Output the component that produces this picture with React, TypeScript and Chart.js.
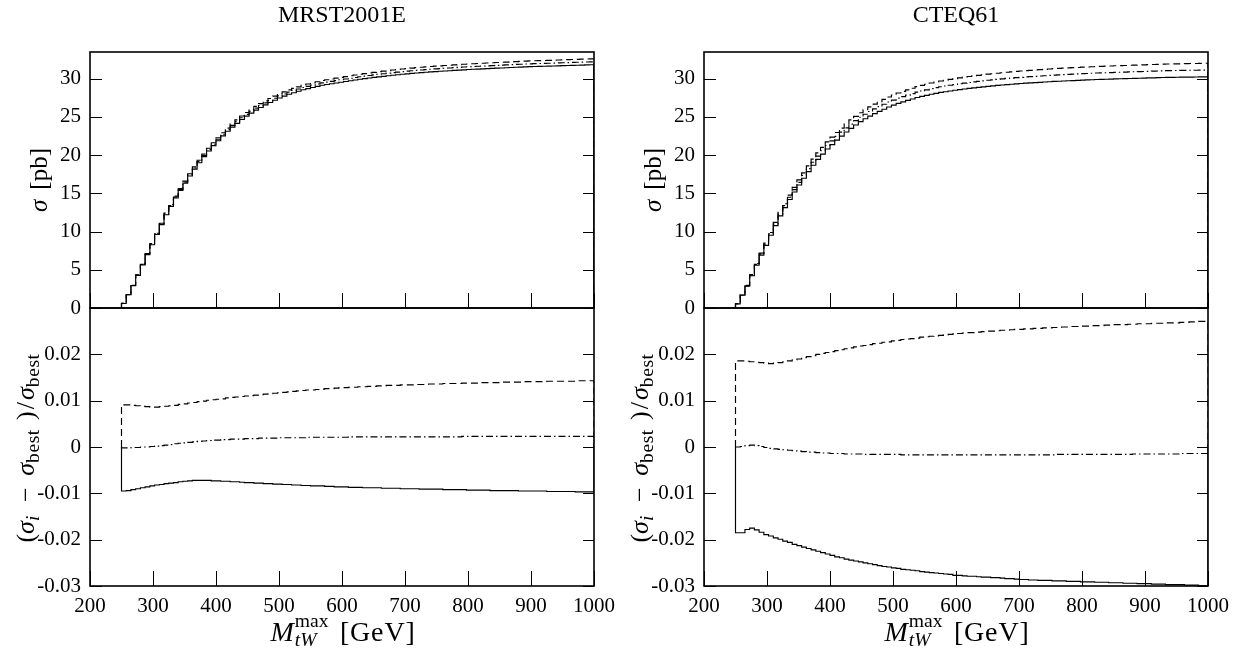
import React, { useEffect, useRef } from 'react';
import { Chart, registerables } from 'chart.js';
Chart.register(...registerables);

const FONT = "'Liberation Serif', 'Times New Roman', serif";

// histogram binning (GeV)
const BIN_LO = 250;
const BIN_W = 7.5;
const X_MIN = 200;
const X_MAX = 1000;
const X_TICKS = [200, 300, 400, 500, 600, 700, 800, 900, 1000];
const SIGMA_TICKS = [0, 5, 10, 15, 20, 25, 30];
const SIGMA_MAX = 33.5;
const RATIO_TICKS = [-0.03, -0.02, -0.01, 0, 0.01, 0.02, 0.03];
const RATIO_MIN = -0.03;
const RATIO_MAX = 0.03;

// sigma_best per 7.5 GeV bin [pb]
const MRST_BEST = [
  0.6, 1.75, 2.95, 4.3, 5.7, 7.05, 8.35, 9.7, 11.0, 12.3,
  13.4, 14.5, 15.5, 16.45, 17.4, 18.3, 19.15, 19.95, 20.7, 21.4,
  22.05, 22.7, 23.3, 23.85, 24.35, 24.85, 25.3, 25.7, 26.1, 26.45,
  26.8, 27.1, 27.4, 27.7, 27.95, 28.2, 28.4, 28.6, 28.8, 28.95,
  29.1, 29.25, 29.4, 29.5, 29.6, 29.7, 29.8, 29.9, 30.0, 30.1,
  30.2, 30.28, 30.36, 30.44, 30.52, 30.59, 30.66, 30.73, 30.8, 30.86,
  30.92, 30.98, 31.03, 31.08, 31.13, 31.18, 31.22, 31.26, 31.3, 31.34,
  31.38, 31.42, 31.46, 31.5, 31.53, 31.56, 31.59, 31.62, 31.65, 31.68,
  31.71, 31.74, 31.77, 31.8, 31.83, 31.86, 31.88, 31.9, 31.92, 31.94,
  31.96, 31.98, 32.0, 32.02, 32.04, 32.06, 32.08, 32.1, 32.12, 32.14,
];
const CTEQ_BEST = [
  0.55, 1.7, 2.9, 4.3, 5.7, 7.05, 8.35, 9.7, 11.0, 12.3,
  13.4, 14.5, 15.5, 16.45, 17.35, 18.25, 19.1, 19.9, 20.6, 21.3,
  21.9, 22.5, 23.05, 23.6, 24.1, 24.55, 25.0, 25.4, 25.75, 26.1,
  26.4, 26.7, 27.0, 27.25, 27.5, 27.7, 27.9, 28.1, 28.3, 28.45,
  28.6, 28.75, 28.88, 29.0, 29.1, 29.2, 29.3, 29.4, 29.48, 29.56,
  29.64, 29.71, 29.78, 29.85, 29.91, 29.97, 30.03, 30.09, 30.14, 30.19,
  30.24, 30.29, 30.33, 30.37, 30.41, 30.45, 30.49, 30.53, 30.56, 30.59,
  30.62, 30.65, 30.68, 30.71, 30.74, 30.77, 30.8, 30.82, 30.84, 30.86,
  30.88, 30.9, 30.92, 30.94, 30.96, 30.98, 31.0, 31.02, 31.04, 31.06,
  31.08, 31.1, 31.11, 31.12, 31.13, 31.14, 31.15, 31.16, 31.17, 31.18,
];

// (sigma_i - sigma_best)/sigma_best per bin, in units of 1e-4
const MRST_DASHED = [
  91, 91, 90, 89, 88, 87, 86, 86, 87, 88,
  89, 90, 92, 93, 95, 96, 98, 99, 101, 102,
  103, 104, 106, 107, 108, 109, 110, 111, 112, 113,
  114, 115, 116, 117, 118, 119, 120, 121, 122, 123,
  123, 124, 125, 126, 126, 127, 128, 128, 129, 129,
  130, 130, 131, 131, 132, 132, 133, 133, 133, 134,
  134, 134, 135, 135, 135, 136, 136, 136, 137, 137,
  137, 137, 138, 138, 138, 138, 139, 139, 139, 139,
  140, 140, 140, 140, 140, 141, 141, 141, 141, 141,
  142, 142, 142, 142, 142, 142, 143, 143, 143, 143,
];
const MRST_DASHDOT = [
  -2, -2, -1, -1, 0, 0, 1, 2, 3, 4,
  5, 7, 8, 9, 10, 11, 12, 13, 14, 15,
  15, 16, 16, 17, 17, 17, 18, 18, 18, 19,
  19, 19, 19, 20, 20, 20, 20, 20, 20, 21,
  21, 21, 21, 21, 21, 21, 21, 21, 22, 22,
  22, 22, 22, 22, 22, 22, 22, 22, 22, 22,
  22, 22, 22, 22, 22, 22, 22, 22, 22, 22,
  22, 22, 23, 23, 23, 23, 23, 23, 23, 23,
  23, 23, 23, 23, 23, 23, 23, 23, 23, 23,
  23, 23, 23, 23, 23, 23, 23, 23, 23, 23,
];
const MRST_SOLID = [
  -95, -94, -92, -90, -88, -86, -84, -82, -81, -79,
  -78, -77, -75, -74, -73, -72, -72, -72, -72, -73,
  -73, -74, -74, -75, -75, -76, -77, -77, -78, -78,
  -79, -79, -80, -80, -81, -81, -82, -82, -83, -83,
  -84, -84, -84, -85, -85, -86, -86, -86, -87, -87,
  -87, -88, -88, -88, -88, -89, -89, -89, -89, -90,
  -90, -90, -90, -91, -91, -91, -91, -91, -92, -92,
  -92, -92, -92, -93, -93, -93, -93, -93, -94, -94,
  -94, -94, -94, -94, -95, -95, -95, -95, -95, -95,
  -96, -96, -96, -96, -96, -96, -97, -97, -97, -97,
];
const CTEQ_DASHED = [
  186, 186, 185, 184, 183, 182, 181, 180, 181, 182,
  184, 186, 188, 190, 193, 195, 197, 200, 202, 204,
  206, 208, 210, 212, 214, 216, 218, 219, 221, 223,
  224, 226, 227, 229, 230, 232, 233, 234, 235, 237,
  238, 239, 240, 241, 242, 243, 244, 245, 246, 247,
  247, 248, 249, 250, 250, 251, 252, 252, 253, 254,
  254, 255, 255, 256, 256, 257, 257, 258, 258, 259,
  259, 260, 260, 261, 261, 262, 262, 262, 263, 263,
  264, 264, 264, 265, 265, 266, 266, 266, 267, 267,
  267, 268, 268, 268, 269, 269, 270, 270, 271, 271,
];
const CTEQ_DASHDOT = [
  0, 1, 3, 4, 3, 1, -1, -3, -4, -5,
  -6, -7, -8, -9, -10, -11, -11, -12, -13, -13,
  -14, -14, -14, -15, -15, -15, -15, -16, -16, -16,
  -16, -16, -16, -16, -16, -17, -17, -17, -17, -17,
  -17, -17, -17, -17, -17, -17, -17, -17, -17, -17,
  -17, -17, -17, -17, -17, -17, -17, -17, -17, -17,
  -17, -17, -17, -17, -17, -17, -17, -17, -16, -16,
  -16, -16, -16, -16, -16, -16, -16, -16, -16, -16,
  -16, -16, -16, -16, -15, -15, -15, -15, -15, -15,
  -15, -15, -15, -15, -14, -14, -14, -14, -14, -14,
];
const CTEQ_SOLID = [
  -185, -185, -178, -175, -179, -184, -189, -192, -196, -199,
  -203, -206, -210, -213, -216, -219, -222, -225, -228, -231,
  -234, -237, -239, -242, -244, -246, -248, -250, -252, -254,
  -256, -258, -259, -261, -262, -264, -265, -266, -267, -269,
  -270, -271, -272, -273, -274, -275, -277, -277, -278, -279,
  -279, -280, -281, -281, -282, -282, -283, -284, -284, -285,
  -286, -286, -287, -287, -288, -288, -288, -289, -289, -289,
  -290, -290, -290, -291, -291, -291, -292, -292, -292, -293,
  -293, -293, -294, -294, -294, -295, -295, -295, -296, -296,
  -296, -297, -297, -297, -297, -298, -298, -298, -299, -299,
];

const RATIO_UNIT = 1e-4;
const DASH = [7, 4];
const DASHDOT = [7, 3, 1.5, 3];

type Series = { values: number[]; dash: number[] };

function histPoints(values: number[]) {
  const pts: { x: number; y: number }[] = [{ x: BIN_LO, y: 0 }];
  values.forEach((v, k) => pts.push({ x: BIN_LO + BIN_W * k, y: v }));
  pts.push({ x: BIN_LO + BIN_W * values.length, y: 0 });
  return pts;
}

function topSeries(best: number[], solid: number[], dashed: number[], dashdot: number[]): Series[] {
  const mk = (r: number[]) => best.map((b, k) => b * (1 + r[k] * RATIO_UNIT));
  return [
    { values: mk(solid), dash: [] },
    { values: mk(dashed), dash: DASH },
    { values: mk(dashdot), dash: DASHDOT },
  ];
}
function ratioSeries(solid: number[], dashed: number[], dashdot: number[]): Series[] {
  const mk = (r: number[]) => r.map((v) => v * RATIO_UNIT);
  return [
    { values: mk(solid), dash: [] },
    { values: mk(dashed), dash: DASH },
    { values: mk(dashdot), dash: DASHDOT },
  ];
}

const frameTicksPlugin = {
  id: 'frameTicks',
  afterDatasetsDraw(chart: any, _args: any, opts: any) {
    const { ctx, chartArea: a, scales } = chart;
    const xs = scales.x;
    const ys = scales.y;
    ctx.save();
    ctx.strokeStyle = '#000';
    ctx.lineWidth = 1;
    ctx.beginPath();
    for (const v of X_TICKS) {
      const px = Math.round(xs.getPixelForValue(v)) + 0.5;
      ctx.moveTo(px, a.bottom);
      ctx.lineTo(px, a.bottom - 15);
    }
    for (const v of opts.yTicks as number[]) {
      const py = Math.round(ys.getPixelForValue(v)) + 0.5;
      ctx.moveTo(a.left, py);
      ctx.lineTo(a.left + 12, py);
      ctx.moveTo(a.right, py);
      ctx.lineTo(a.right - 11, py);
    }
    ctx.stroke();
    ctx.lineWidth = 1.6;
    ctx.strokeRect(a.left, a.top, a.right - a.left, a.bottom - a.top);
    ctx.restore();
  },
};

type PanelProps = {
  left: number; top: number; width: number; height: number;
  padTop: number; xHeight: number;
  yMin: number; yMax: number; yTicks: number[]; showX: boolean;
  fmt: (v: number) => string; series: Series[];
};

function Panel(p: PanelProps) {
  const ref = useRef<HTMLCanvasElement>(null);
  useEffect(() => {
    if (!ref.current) return;
    const chart = new Chart(ref.current, {
      type: 'line',
      data: {
        datasets: p.series.map((s) => ({
          data: histPoints(s.values),
          borderColor: '#000',
          borderWidth: 1.15,
          borderDash: s.dash,
          stepped: true,
          pointRadius: 0,
          fill: false,
        })),
      } as any,
      options: {
        animation: false,
        responsive: false,
        maintainAspectRatio: false,
        layout: { padding: { left: 0, right: 26, top: p.padTop, bottom: 0 } },
        plugins: {
          legend: { display: false },
          tooltip: { enabled: false },
          title: { display: false },
          frameTicks: { yTicks: p.yTicks },
        } as any,
        scales: {
          x: {
            type: 'linear',
            min: X_MIN,
            max: X_MAX,
            grid: { display: false, drawTicks: false },
            border: { display: false },
            ticks: {
              display: p.showX,
              autoSkip: false,
              maxRotation: 0,
              padding: 8,
              color: '#000',
              font: { family: FONT, size: 21 },
              callback: (v: any) => String(v),
            },
            afterBuildTicks: (s: any) => { s.ticks = X_TICKS.map((v) => ({ value: v })); },
            afterFit: (s: any) => {
              s.height = p.xHeight;
              s.paddingLeft = 0; s.paddingRight = 0; s.paddingTop = 0; s.paddingBottom = 0;
            },
          },
          y: {
            type: 'linear',
            min: p.yMin,
            max: p.yMax,
            grid: { display: false, drawTicks: false },
            border: { display: false },
            ticks: {
              autoSkip: false,
              padding: 9,
              color: '#000',
              font: { family: FONT, size: 21 },
              callback: (v: any) => p.fmt(Number(v)),
            },
            afterBuildTicks: (s: any) => { s.ticks = p.yTicks.map((v) => ({ value: v })); },
            afterFit: (s: any) => {
              s.width = 90;
              s.paddingLeft = 0; s.paddingRight = 0; s.paddingTop = 0; s.paddingBottom = 0;
            },
          },
        },
      } as any,
      plugins: [frameTicksPlugin as any],
    });
    return () => chart.destroy();
  }, []);
  return (
    <canvas
      ref={ref}
      width={p.width}
      height={p.height}
      style={{ position: 'absolute', left: p.left, top: p.top, width: p.width, height: p.height }}
    />
  );
}

const fmtSigma = (v: number) => String(v);
const fmtRatio = (v: number) => (Math.abs(v - RATIO_MAX) < 1e-9 ? '' : Math.abs(v) < 1e-9 ? '0' : v.toFixed(2));

const txt: React.CSSProperties = {
  position: 'absolute', fontFamily: FONT, color: '#000', whiteSpace: 'nowrap', lineHeight: 1,
};

function Sub({ children, it }: { children: React.ReactNode; it?: boolean }) {
  return (
    <span style={{ fontSize: '0.75em', position: 'relative', top: '0.28em', letterSpacing: '0.03em', fontStyle: it ? 'italic' : 'normal' }}>
      {children}
    </span>
  );
}

function SigmaTitle({ cx, cy }: { cx: number; cy: number }) {
  return (
    <div style={{ ...txt, fontSize: 25, left: cx, top: cy, transform: 'translate(-50%,-50%) rotate(-90deg)' }}>
      <i>σ</i><span style={{ marginLeft: '0.4em' }}>[pb]</span>
    </div>
  );
}

function RatioTitle({ cx, cy }: { cx: number; cy: number }) {
  return (
    <div style={{ ...txt, fontSize: 26, left: cx, top: cy, transform: 'translate(-50%,-50%) rotate(-90deg)' }}>
      (<i>σ</i><Sub it>i</Sub>
      <span style={{ margin: '0 0.45em 0 0.5em' }}>−</span>
      <i>σ</i><Sub>best</Sub>
      <span style={{ marginLeft: '0.35em' }}>)</span>
      <span style={{ margin: '0 0.08em' }}>/</span>
      <i>σ</i><Sub>best</Sub>
    </div>
  );
}

function XTitle({ cx, top }: { cx: number; top: number }) {
  return (
    <div style={{ ...txt, fontSize: 28, left: cx, top, transform: 'translateX(-50%)' }}>
      <i>M</i>
      <span style={{ position: 'relative', display: 'inline-block', width: '1.3em', height: 0 }}>
        <span style={{ position: 'absolute', left: 1, bottom: 10, fontSize: '0.7em', lineHeight: 1 }}>max</span>
        <span style={{ position: 'absolute', left: 1, top: -11, fontSize: '0.7em', lineHeight: 1, fontStyle: 'italic' }}>tW</span>
      </span>
      <span style={{ marginLeft: '0.35em', letterSpacing: '0.03em' }}>[GeV]</span>
    </div>
  );
}

export default function App() {
  const mrstTop = topSeries(MRST_BEST, MRST_SOLID, MRST_DASHED, MRST_DASHDOT);
  const cteqTop = topSeries(CTEQ_BEST, CTEQ_SOLID, CTEQ_DASHED, CTEQ_DASHDOT);
  const mrstRatio = ratioSeries(MRST_SOLID, MRST_DASHED, MRST_DASHDOT);
  const cteqRatio = ratioSeries(CTEQ_SOLID, CTEQ_DASHED, CTEQ_DASHDOT);
  const cols = [
    { x0: 0, title: 'MRST2001E', top: mrstTop, ratio: mrstRatio },
    { x0: 614, title: 'CTEQ61', top: cteqTop, ratio: cteqRatio },
  ];
  return (
    <div style={{ position: 'fixed', left: 0, top: 0, width: 1246, height: 650, background: '#fff', overflow: 'hidden' }}>
      {cols.map((c) => (
        <React.Fragment key={c.title}>
          <Panel left={c.x0} top={0} width={620} height={320} padTop={52} xHeight={12}
            yMin={0} yMax={SIGMA_MAX} yTicks={SIGMA_TICKS} showX={false} fmt={fmtSigma} series={c.top} />
          <Panel left={c.x0} top={300} width={620} height={350} padTop={8} xHeight={64}
            yMin={RATIO_MIN} yMax={RATIO_MAX} yTicks={RATIO_TICKS} showX={true} fmt={fmtRatio} series={c.ratio} />
          <div style={{ ...txt, fontSize: 24, left: c.x0 + 342, top: 2, transform: 'translateX(-50%)' }}>{c.title}</div>
          <SigmaTitle cx={c.x0 + 38} cy={180} />
          <RatioTitle cx={c.x0 + 26} cy={448} />
          <XTitle cx={c.x0 + 343} top={618} />
        </React.Fragment>
      ))}
    </div>
  );
}
